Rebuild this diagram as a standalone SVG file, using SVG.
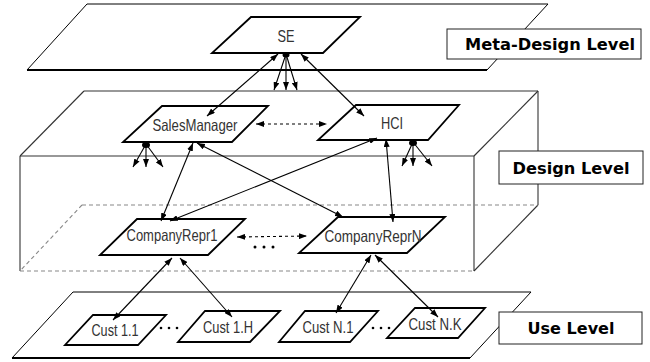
<svg xmlns="http://www.w3.org/2000/svg" width="650" height="362" viewBox="0 0 650 362">
<style>
.plane{fill:none;stroke:#000;stroke-width:1}
.edge{stroke:#000;stroke-width:2}
.box{fill:none;stroke:#333;stroke-width:1.1}
.dbox{fill:none;stroke:#888;stroke-width:1.1;stroke-dasharray:4,3}
.node{fill:#fff;stroke:#000;stroke-width:1.8;stroke-linejoin:miter}
.nt{font-family:"Liberation Sans",Arial,sans-serif;font-size:16.5px;fill:#333;text-anchor:middle}
.lbl{fill:#fff;stroke:#222;stroke-width:1}
.lt{font-family:"DejaVu Sans",Verdana,sans-serif;font-weight:bold;font-size:16.5px;fill:#000;text-anchor:middle}
.c{stroke:#000;stroke-width:1.1;fill:none}
.dash{stroke-dasharray:3,3}
.dots{fill:#000}
</style>
<defs>
<marker id="ah" viewBox="0 0 8 6" refX="8" refY="3" markerWidth="8" markerHeight="6" markerUnits="userSpaceOnUse" orient="auto-start-reverse">
<path d="M0,0 L8,3 L0,6 z" fill="#000"/>
</marker>
</defs>

<g id="meta-plane">
<polygon class="plane" points="87,4 548,4 487,70 27,70"/>
<line class="edge" x1="27" y1="70" x2="487" y2="70"/>
</g>

<g id="design-box">
<line class="box" x1="84" y1="91" x2="538" y2="91"/>
<line class="box" x1="84" y1="91" x2="20" y2="156"/>
<line class="box" x1="538" y1="91" x2="474" y2="156"/>
<line class="box" x1="538" y1="91" x2="538" y2="205"/>
<line class="box" x1="538" y1="205" x2="474" y2="271"/>
<line class="box" x1="20" y1="156" x2="474" y2="156"/>
<line class="box" x1="20" y1="156" x2="20" y2="271"/>
<line class="box" x1="474" y1="156" x2="474" y2="271"/>
<line class="dbox" x1="82" y1="205" x2="538" y2="205"/>
<line class="dbox" x1="82" y1="205" x2="20" y2="271"/>
<line class="dbox" x1="20" y1="271" x2="474" y2="271"/>
</g>

<g id="use-plane">
<polygon class="plane" points="73,292 531,292 470,358 12,358"/>
<line class="edge" x1="12" y1="358" x2="470" y2="358"/>
</g>

<g id="label-meta">
<rect class="lbl" x="447" y="29" width="194" height="30"/>
<text class="lt" x="550" y="50" textLength="170" lengthAdjust="spacingAndGlyphs">Meta-Design Level</text>
</g>
<g id="label-design">
<rect class="lbl" x="499" y="151" width="144" height="33"/>
<text class="lt" x="571" y="174" textLength="117" lengthAdjust="spacingAndGlyphs">Design Level</text>
</g>
<g id="label-use">
<rect class="lbl" x="499" y="312" width="143" height="32"/>
<text class="lt" x="571" y="334" textLength="87" lengthAdjust="spacingAndGlyphs">Use Level</text>
</g>

<g id="SE">
<polygon class="node" points="251,17 360,17 323,53 212,53"/>
<text class="nt" x="286" y="42" textLength="17" lengthAdjust="spacingAndGlyphs">SE</text>
</g>
<g id="SalesManager">
<polygon class="node" points="162,106 268,106 232,142 123,142"/>
<text class="nt" x="195" y="131" textLength="85" lengthAdjust="spacingAndGlyphs">SalesManager</text>
</g>
<g id="HCI">
<polygon class="node" points="356,105 459,105 428,140 318,140"/>
<text class="nt" x="392" y="129" textLength="22" lengthAdjust="spacingAndGlyphs">HCI</text>
</g>
<g id="CompanyRepr1">
<polygon class="node" points="137,219 245,219 208,255 100,255"/>
<text class="nt" x="172" y="241" textLength="91" lengthAdjust="spacingAndGlyphs">CompanyRepr1</text>
</g>
<g id="CompanyReprN">
<polygon class="node" points="338,217 445,217 407,253 299,253"/>
<text class="nt" x="373" y="242" textLength="97" lengthAdjust="spacingAndGlyphs">CompanyReprN</text>
</g>
<g id="Cust11">
<polygon class="node" points="93,315 166,315 138,345 65,345"/>
<text class="nt" x="115" y="336" textLength="47" lengthAdjust="spacingAndGlyphs">Cust 1.1</text>
</g>
<g id="Cust1H">
<polygon class="node" points="205,311 280,311 250,342 178,342"/>
<text class="nt" x="228" y="333" textLength="50" lengthAdjust="spacingAndGlyphs">Cust 1.H</text>
</g>
<g id="CustN1">
<polygon class="node" points="305,311 378,311 350,342 279,342"/>
<text class="nt" x="328" y="333" textLength="51" lengthAdjust="spacingAndGlyphs">Cust N.1</text>
</g>
<g id="CustNK">
<polygon class="node" points="415,308 485,308 458,338 387,338"/>
<text class="nt" x="435" y="330" textLength="53" lengthAdjust="spacingAndGlyphs">Cust N.K</text>
</g>

<g id="ellipses">
<circle class="dots" cx="255" cy="247" r="1.5"/>
<circle class="dots" cx="264" cy="247" r="1.5"/>
<circle class="dots" cx="273" cy="247" r="1.5"/>
<circle class="dots" cx="161" cy="328" r="1.3"/>
<circle class="dots" cx="169" cy="328" r="1.3"/>
<circle class="dots" cx="177" cy="328" r="1.3"/>
<circle class="dots" cx="373" cy="328" r="1.3"/>
<circle class="dots" cx="381" cy="328" r="1.3"/>
<circle class="dots" cx="389" cy="328" r="1.3"/>
</g>

<g id="connectors">
<path class="c" d="M278,54 L207,116" marker-start="url(#ah)" marker-end="url(#ah)"/>
<path class="c" d="M301,54 L364,116" marker-start="url(#ah)" marker-end="url(#ah)"/>
<path class="c" d="M286,54 L274,90" marker-end="url(#ah)"/>
<path class="c" d="M286,54 L286,90" marker-end="url(#ah)"/>
<path class="c" d="M286,54 L297,90" marker-end="url(#ah)"/>
<ellipse cx="286" cy="55" rx="3.5" ry="2.5" fill="#000"/>
<path class="c" d="M146,144 L133,167" marker-end="url(#ah)"/>
<path class="c" d="M146,144 L146,167" marker-end="url(#ah)"/>
<path class="c" d="M146,144 L163,167" marker-end="url(#ah)"/>
<ellipse cx="146" cy="145" rx="4" ry="3" fill="#000"/>
<path class="c" d="M413,142 L402,166" marker-end="url(#ah)"/>
<path class="c" d="M413,142 L413,166" marker-end="url(#ah)"/>
<path class="c" d="M413,142 L432,166" marker-end="url(#ah)"/>
<ellipse cx="413" cy="143" rx="4" ry="3" fill="#000"/>
<path class="c dash" d="M256,124 L327,124" marker-start="url(#ah)" marker-end="url(#ah)"/>
<path class="c" d="M193,143 L161,221" marker-start="url(#ah)" marker-end="url(#ah)"/>
<path class="c" d="M377,138 L170,221" marker-start="url(#ah)" marker-end="url(#ah)"/>
<path class="c" d="M197,143 L343,217" marker-start="url(#ah)" marker-end="url(#ah)"/>
<path class="c" d="M386,139 L393,222" marker-start="url(#ah)" marker-end="url(#ah)"/>
<path class="c dash" d="M237,237 L307,236" marker-start="url(#ah)" marker-end="url(#ah)"/>
<path class="c" d="M172,258 L113,320" marker-start="url(#ah)" marker-end="url(#ah)"/>
<path class="c" d="M180,258 L232,317" marker-start="url(#ah)" marker-end="url(#ah)"/>
<path class="c" d="M371,255 L336,313" marker-start="url(#ah)" marker-end="url(#ah)"/>
<path class="c" d="M375,255 L438,317" marker-start="url(#ah)" marker-end="url(#ah)"/>
</g>
</svg>
